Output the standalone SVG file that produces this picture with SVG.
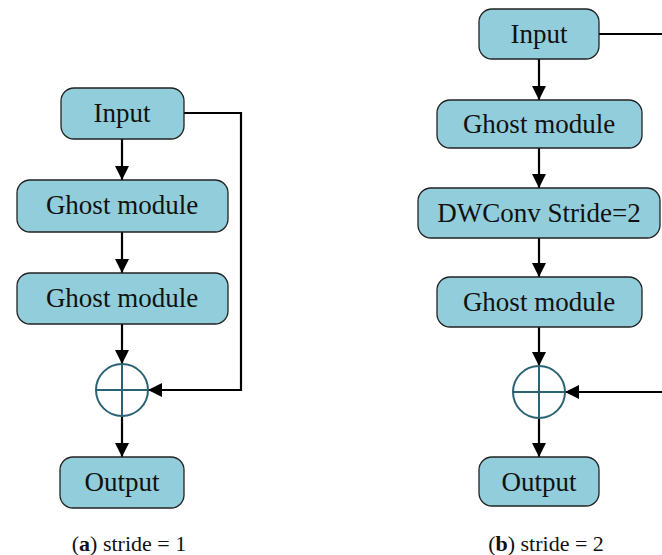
<svg xmlns="http://www.w3.org/2000/svg" width="662" height="555" viewBox="0 0 662 555">
<defs>
<marker id="ah" viewBox="0 0 14 14" refX="14" refY="7" markerWidth="14" markerHeight="14" markerUnits="userSpaceOnUse" orient="auto">
<path d="M0,0 L14,7 L0,14 z" fill="#000"/>
</marker>
<style>
.box{fill:#92CDDB;stroke:#222;stroke-width:1.3}
.t{font-family:"Liberation Serif","Times New Roman",serif;font-size:27px;fill:#111;text-anchor:middle}
.cap{font-family:"Liberation Serif","Times New Roman",serif;font-size:22px;fill:#111;text-anchor:middle}
.ln{fill:none;stroke:#000;stroke-width:2.2}
.ar{fill:none;stroke:#000;stroke-width:2.2;marker-end:url(#ah)}
.sum{fill:none;stroke:#2A6373;stroke-width:2}
</style>
</defs>
<rect width="662" height="555" fill="#fff"/>
<g id="connectors">
<line class="ar" x1="122" y1="139" x2="122" y2="180"/>
<line class="ar" x1="122" y1="232" x2="122" y2="273"/>
<line class="ar" x1="122" y1="324" x2="122" y2="364"/>
<line class="ar" x1="122" y1="416" x2="122" y2="457"/>
<polyline class="ar" points="184,113 241,113 241,390 148,390"/>
<line class="ar" x1="539" y1="59" x2="539" y2="100"/>
<line class="ar" x1="539" y1="148" x2="539" y2="188"/>
<line class="ar" x1="539" y1="238" x2="539" y2="277"/>
<line class="ar" x1="539" y1="327" x2="539" y2="366"/>
<line class="ar" x1="539" y1="418" x2="539" y2="457"/>
<line class="ln" x1="599" y1="34" x2="662" y2="34"/>
<line class="ar" x1="662" y1="392" x2="565" y2="392"/>
</g>
<g id="a-input"><rect class="box" x="61" y="88" width="123" height="51" rx="13"/><text class="t" x="122" y="122">Input</text></g>
<g id="a-ghost1"><rect class="box" x="17" y="180" width="211" height="52" rx="13"/><text class="t" x="122" y="214">Ghost module</text></g>
<g id="a-ghost2"><rect class="box" x="17" y="273" width="211" height="51" rx="13"/><text class="t" x="122" y="307">Ghost module</text></g>
<g id="a-sum"><circle class="sum" cx="122" cy="390" r="26"/><line class="sum" x1="96" y1="390" x2="148" y2="390"/><line class="sum" x1="122" y1="364" x2="122" y2="416"/></g>
<g id="a-output"><rect class="box" x="60" y="457" width="124" height="51" rx="13"/><text class="t" x="122" y="491">Output</text></g>
<g id="b-input"><rect class="box" x="479" y="9" width="120" height="50" rx="13"/><text class="t" x="539" y="43">Input</text></g>
<g id="b-ghost1"><rect class="box" x="437" y="100" width="205" height="48" rx="13"/><text class="t" x="539" y="133">Ghost module</text></g>
<g id="b-dwconv"><rect class="box" x="418" y="188" width="242" height="50" rx="13"/><text class="t" x="539" y="222">DWConv Stride=2</text></g>
<g id="b-ghost2"><rect class="box" x="437" y="277" width="205" height="50" rx="13"/><text class="t" x="539" y="311">Ghost module</text></g>
<g id="b-sum"><circle class="sum" cx="539" cy="392" r="26"/><line class="sum" x1="513" y1="392" x2="565" y2="392"/><line class="sum" x1="539" y1="366" x2="539" y2="418"/></g>
<g id="b-output"><rect class="box" x="479" y="457" width="120" height="49" rx="13"/><text class="t" x="539" y="491">Output</text></g>
<text class="cap" x="129" y="551">(<tspan font-weight="bold">a</tspan>) stride = 1</text>
<text class="cap" x="546" y="551">(<tspan font-weight="bold">b</tspan>) stride = 2</text>
</svg>
